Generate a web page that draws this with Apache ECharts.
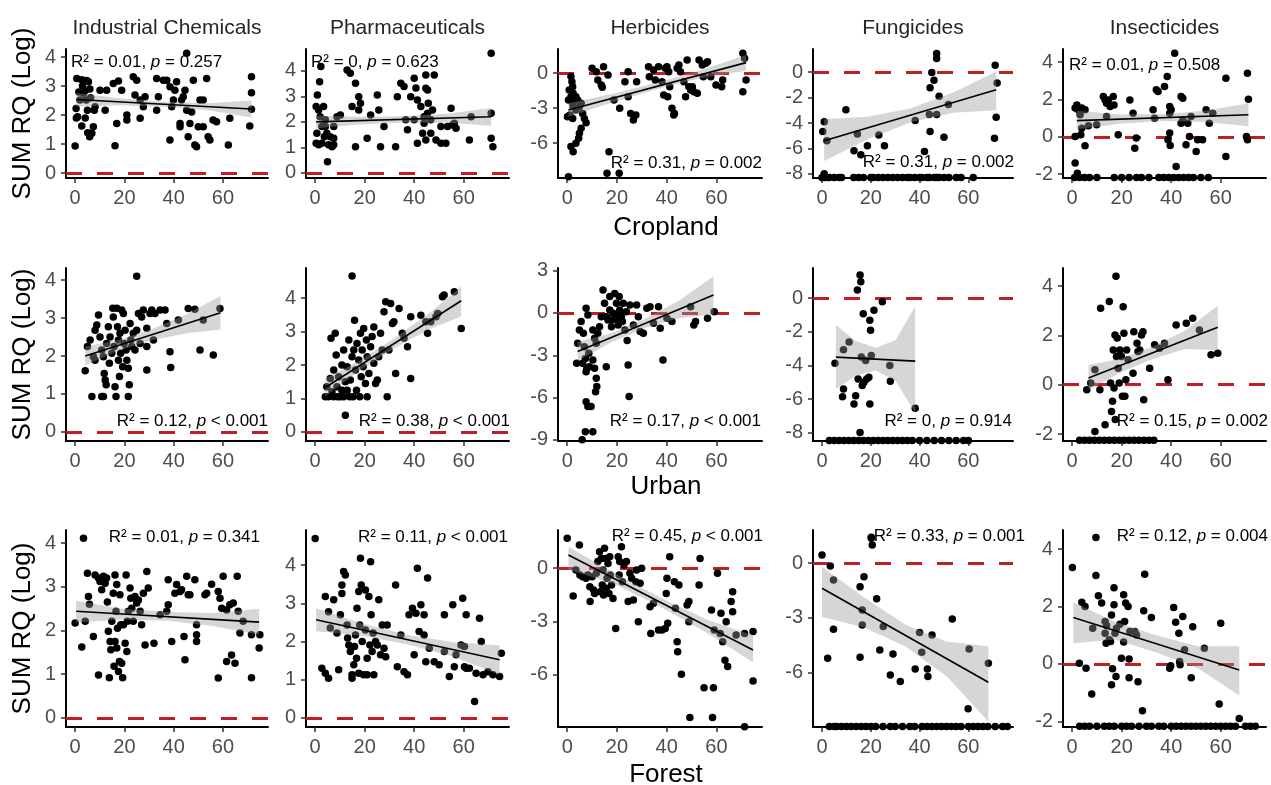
<!DOCTYPE html>
<html>
<head>
<meta charset="utf-8">
<title>SUM RQ vs land use</title>
<script src="https://cdn.jsdelivr.net/npm/echarts@6/dist/echarts.min.js"></script>
<style>
  html, body { margin: 0; padding: 0; background: #fff; }
  #chart { width: 1271px; height: 785px; }
</style>
</head>
<body>
<div id="chart"></div>
<script>
// ---- labels ----
const classNames = ['Industrial Chemicals', 'Pharmaceuticals', 'Herbicides', 'Fungicides', 'Insecticides'];
const landUses = ['Cropland', 'Urban', 'Forest'];
const xTicks = [0, 20, 40, 60];
const statR2 = [
  ['0.01', '0', '0.31', '0.31', '0.01'],
  ['0.12', '0.38', '0.17', '0', '0.15'],
  ['0.01', '0.11', '0.45', '0.33', '0.12']
];
const statP = [
  ['= 0.257', '= 0.623', '= 0.002', '= 0.002', '= 0.508'],
  ['< 0.001', '< 0.001', '< 0.001', '= 0.914', '= 0.002'],
  ['= 0.341', '< 0.001', '< 0.001', '= 0.001', '= 0.004']
];

// ---- Cropland ----
const cropIndustrial = [[0,0.93],[0.7,3.26],[2.7,3.22],[4.7,3.19],[5.4,3.15],[0.4,2.23],[1,1.94],[2,2.52],[3.4,2.75],[4.2,2.86],[4.5,2.52],[5,2.17],[2.7,1.62],[4.1,1.9],[5.1,1.39],[5.9,1.25],[6.8,1.37],[7.4,1.6],[7.8,2.17],[8.1,2.29],[1.5,2.8],[3,3.0],[0.5,1.9],[6.3,2.6],[6,2.9],[10.1,2.86],[12.8,2.86],[15.5,3.09],[17.6,3.18],[18.9,2.86],[16.9,1.71],[16.2,0.94],[21,2.0],[21,1.83],[12.2,2.17],[23.6,3.32],[25,3.2],[24.3,2.69],[26.4,2.52],[26.4,1.89],[27.7,2.29],[28.4,2.63],[33.1,3.26],[33.8,2.63],[33.1,2.17],[35.8,3.2],[37.2,3.2],[38.5,2.98],[39.2,2.29],[38.5,1.14],[40.5,2.86],[41.2,3.15],[39.9,2.52],[42.6,1.6],[42.6,1.71],[43.9,2.63],[44.6,2.86],[45.3,2.17],[43.2,2.52],[45.9,1.25],[46.6,1.71],[47.3,2.11],[48,3.2],[48.6,0.97],[49.3,0.91],[50,1.6],[50.7,2.52],[52,2.52],[53.4,3.26],[52,1.6],[54,1.25],[54.7,1.14],[56,1.83],[57.4,1.77],[62.8,1.89],[62.2,0.97],[71.6,3.32],[71.6,2.77],[71.6,2.2],[70.9,1.62],[45.3,4.13]];
const cropPharma = [[2.3,4.17],[1.8,3.58],[0.9,3.06],[0.4,2.6],[1.4,2.47],[2,2.2],[2.7,1.82],[0.7,1.56],[0.4,1.16],[1.4,1.1],[2.7,1.16],[3.7,1.42],[4.1,1.82],[4.7,1.56],[5.4,1.1],[4.1,2.08],[6.1,1.42],[7.5,1.36],[7.5,1.1],[6.8,1.03],[5,0.44],[3.4,2.6],[7.5,1.82],[8.8,2.2],[10.2,2.27],[12.9,4.04],[14.2,3.91],[16.3,3.52],[14.9,2.6],[16.3,1.03],[17.6,2.99],[18.3,2.73],[17.6,2.47],[21,1.36],[22.4,2.27],[25.1,3.06],[25.7,2.47],[26.4,1.03],[27.8,1.82],[32.5,1.03],[33.2,2.99],[34.6,3.52],[35.9,3.39],[36.6,2.08],[37.3,1.69],[38.6,2.99],[40,3.71],[40,2.08],[40.7,3.33],[41.3,2.86],[41.3,1.16],[42.7,2.6],[43.4,1.56],[44,2.2],[44.7,1.29],[45.4,3.25],[45.7,2.73],[44.7,3.84],[48.1,3.84],[44.7,3.32],[44,1.95],[46.7,1.56],[48.8,1.29],[50.8,1.16],[52.8,1.16],[46.7,2.08],[50.8,1.82],[53.5,1.82],[55.5,1.88],[54.9,2.54],[56.2,1.95],[56.9,1.75],[62.3,1.29],[63,2.2],[71.1,4.69],[71.1,2.34],[71.1,1.36],[71.8,1.03],[45.4,2.34],[47.4,2.47]];
const cropHerb = [[1.5,-0.3],[1.9,-0.74],[2.2,-1.17],[0.8,-1.46],[2.4,-1.74],[1.5,-2.03],[3.5,-2.03],[0.5,-2.31],[2.2,-2.6],[4.2,-2.31],[4.9,-2.89],[1.1,-3.6],[0.1,-3.74],[2.2,-3.89],[6.2,-3.46],[6.9,-3.89],[7.6,-4.26],[5.6,-4.74],[4.9,-5.17],[4.6,-5.6],[3.5,-6.03],[1.5,-6.31],[2.4,-6.74],[0.5,-8.89],[3.5,-3.17],[2.4,-2.89],[5.6,-2.6],[10,0.4],[11.7,0.11],[14.6,0.54],[12.3,-0.6],[13.7,-1.03],[14.1,-1.23],[16.4,-0.17],[16,-8.6],[16.8,-6.74],[20.9,-8.6],[18.8,-2.31],[21.1,-3.03],[23.2,-0.74],[24.5,0.11],[24.5,-2.03],[25.5,-3.46],[26.6,-4.03],[27.6,-3.6],[27.9,-0.74],[32.7,0.54],[33,-0.31],[34.7,0.26],[35.4,-0.6],[36.7,0.54],[38.1,-0.74],[38.8,-1.89],[39.4,0.4],[40.1,0.54],[40.4,-2.03],[40.8,0.11],[41.2,-1.17],[42.1,-3.03],[42.8,-3.6],[43.1,-3.46],[44.2,0.4],[44.9,0.69],[45.5,0.11],[46.9,-0.74],[47.6,-2.03],[48.2,1.11],[48.9,-1.17],[49.6,-1.46],[50.3,-1.17],[50.9,-1.6],[52.3,-1.74],[53,1.11],[54.3,0.69],[55.7,0.83],[56.4,0.97],[57.7,-0.31],[59.8,-1.03],[62.5,-0.6],[62.1,-1.17],[70.6,1.69],[71.3,1.26],[71.9,-0.6],[70.6,-1.6],[54.7,-0.31]];
const cropFung = [[0.9,-3.89],[0.3,-4.66],[2,-5.4],[9.8,-2.96],[14.5,-4.87],[13.1,-6.19],[15.9,-6.5],[18.6,-5.79],[23.3,-4.95],[25.6,-5.79],[38.2,-3.81],[42,-6.24],[44,-3.33],[44.3,-4.66],[44.3,-1.22],[45,-0.03],[45.9,-0.63],[47,-3.33],[48,-1.9],[47,1.08],[47,1.48],[50,-5.13],[51.8,-2.54],[71,0.56],[71.8,-0.85],[71.4,-3.54],[70.7,-5.19],[0.9,-8.0],[0.7,-8.17],
  [0,-8.3],[1,-8.3],[2,-8.3],[3,-8.3],[5,-8.3],[7,-8.3],[8,-8.3],[13,-8.3],[15,-8.3],[17,-8.3],[20,-8.3],[21,-8.3],[23,-8.3],[25,-8.3],[27,-8.3],[29,-8.3],[31,-8.3],[33,-8.3],[35,-8.3],[36,-8.3],[38,-8.3],[40,-8.3],[41,-8.3],[43,-8.3],[44,-8.3],[46,-8.3],[47,-8.3],[48,-8.3],[50,-8.3],[52,-8.3],[55,-8.3],[57,-8.3],[62,-8.3]];
const cropInsect = [[1.2,1.54],[1.9,1.71],[2.5,1.45],[3.9,1.54],[5.2,1.45],[3.2,1.18],[3.9,0.46],[3.5,0.11],[5.2,-0.48],[1.2,-1.41],[2.1,-1.95],[1.2,0.02],[6.6,0.59],[9.9,0.64],[12.6,2.16],[13.3,1.98],[13.9,1.8],[14.6,1.98],[15.3,1.63],[16.6,2.16],[16.9,1.71],[13.9,1.09],[18.6,0.11],[23.3,1.98],[24.6,1.27],[25.3,-0.61],[25.9,-0.07],[32.7,1.45],[33.3,1.0],[34,2.52],[34.7,2.43],[37.3,2.7],[38.4,3.23],[39.4,1.63],[40,1.45],[39.4,1.27],[38.7,-0.16],[39.6,-0.46],[39.4,0.2],[41.4,4.48],[42,-1.59],[44,2.16],[44.7,2.07],[44,0.73],[44.7,0.91],[46,-0.43],[46.7,0.73],[47.4,0.02],[48,1.09],[50.1,-0.79],[50.7,-0.16],[52.7,-0.16],[54.1,1.45],[55.4,0.73],[56.8,1.27],[62.1,3.14],[62.1,-1.05],[70.8,3.41],[71.2,2.02],[70.4,0.02],[70.8,-0.16],
  [1,-2.18],[3,-2.18],[5,-2.18],[7,-2.18],[10,-2.18],[17,-2.18],[20,-2.18],[23,-2.18],[26,-2.18],[28,-2.18],[31,-2.18],[35,-2.18],[37,-2.18],[39,-2.18],[41,-2.18],[43,-2.18],[45,-2.18],[47,-2.18],[49,-2.18],[52,-2.18],[55,-2.18]];

// ---- Urban ----
const urbanIndustrial = [[4.1,1.61],[5,2.25],[6.1,2.42],[6.8,0.93],[7.4,1.98],[8.1,2.68],[8.8,2.82],[9.5,3.08],[8.1,1.89],[10.1,2.5],[10.8,0.93],[11.5,0.93],[10.8,2.16],[11.5,1.98],[11.8,1.54],[12.2,1.37],[12.6,1.24],[12.8,2.33],[13.5,2.77],[13.9,1.81],[14.2,2.5],[14.9,2.07],[15.3,3.26],[15.5,3.03],[15.8,2.25],[16.2,1.19],[16.6,0.93],[16.9,3.26],[17.2,2.77],[17.6,2.42],[17.6,1.89],[18,1.46],[18.2,2.6],[18.5,2.07],[18.9,3.21],[19.3,1.72],[19.6,3.12],[19.9,2.33],[20.3,2.68],[20.7,2.16],[21,1.89],[21.6,0.93],[21.6,1.68],[22,1.24],[22.3,2.86],[22.6,2.42],[23,2.25],[23.6,2.6],[24.3,2.16],[25,4.1],[25,2.68],[25.7,3.12],[26.4,2.33],[27,3.03],[27.7,3.21],[29.1,2.25],[29.1,1.63],[29.1,2.73],[30.4,3.12],[31.1,3.21],[31.8,2.42],[32.4,3.12],[34.5,3.21],[36.5,3.21],[37.2,2.86],[38.5,2.11],[38.8,1.7],[41.9,2.95],[45.9,3.25],[48.6,3.23],[50.7,2.16],[52,2.95],[56.1,2.03],[58.8,3.25]];
const urbanPharma = [[4.1,1.05],[4.7,1.35],[5.4,1.05],[6.1,1.6],[6.4,2.8],[6.8,1.2],[7.5,1.05],[7.5,1.85],[8.1,2.95],[8.5,2.3],[8.8,1.35],[9.1,1.05],[9.5,1.65],[10.2,1.05],[10.8,1.25],[10.8,2.0],[11.5,2.45],[11.5,1.05],[12.2,1.5],[12.2,0.5],[12.9,1.95],[12.9,1.25],[13.6,2.75],[14,1.05],[14.2,1.55],[14.9,4.66],[14.9,2.25],[15.3,1.05],[15.6,2.45],[15.9,3.34],[16.3,1.85],[16.7,1.25],[16.9,2.64],[17.6,2.15],[18,1.05],[18.3,2.95],[18.6,1.65],[19,2.45],[19.4,1.95],[19.6,3.09],[20.3,1.45],[20.7,2.75],[21,2.25],[21,1.05],[21.7,1.75],[22.4,2.55],[23,2.85],[23.7,3.14],[23.7,2.05],[24.4,1.45],[25.1,1.55],[25.7,2.25],[26.4,2.95],[27.1,2.45],[27.8,3.59],[28.5,3.89],[29.1,1.05],[29.8,2.45],[30.5,3.84],[31.2,3.24],[31.8,3.29],[32.5,1.75],[33.9,3.69],[35.2,2.95],[35.9,2.8],[37.3,2.55],[38.6,1.6],[38.6,3.44],[42.7,3.49],[44.7,3.29],[45.4,2.95],[48.8,3.44],[51.4,4.04],[52.1,4.09],[56.2,4.19],[59,3.09],[49.5,3.54],[46.7,3.29]];
const urbanHerb = [[4.2,-2.15],[3.8,-3.57],[6.2,-3.57],[5.6,-0.61],[4.9,-1.21],[6.5,-1.44],[7.6,0.33],[8.3,-0.14],[6.9,-2.39],[7.3,-3.22],[7.9,-3.92],[7.6,-4.16],[8.7,-2.86],[8.9,-3.81],[10.3,-3.33],[11,-3.92],[11.7,-4.63],[11.9,-5.22],[11.4,-5.58],[7.6,-6.29],[8.3,-6.64],[9.6,-6.64],[7.3,-8.42],[10.3,-8.42],[6,-9.0],[10.3,-1.21],[11,-1.8],[11.7,-2.15],[12.3,-1.44],[13,-0.97],[13.7,-0.26],[14.4,1.63],[15,0.69],[15.7,-3.81],[16.4,-0.5],[17.1,0.21],[17.1,1.16],[17.8,-0.97],[18.4,-0.02],[19.1,1.39],[19.8,0.69],[20.1,-0.5],[20.5,-0.85],[20.9,1.16],[21.1,0.21],[21.8,-0.26],[22.2,-0.61],[22.5,0.69],[23.2,-1.21],[23.8,0.09],[24.1,-1.95],[24.5,-3.69],[24.9,-5.93],[25.2,0.57],[26.6,-0.85],[27.9,0.57],[28.6,-0.26],[29.3,-1.32],[30.6,-1.44],[32,0.33],[33.3,0.45],[34.7,-0.73],[36.7,0.45],[37.4,-1.09],[38.5,-3.33],[40.1,-0.38],[42.1,-0.61],[49.6,0.45],[50.9,-0.85],[51.6,-0.61],[56.4,-0.38],[59.1,0.09],[15.7,-0.26],[17.8,-0.5],[19.8,-0.14]];
const urbanFung = [[5.3,-3.86],[8.8,-3.06],[11.1,-2.61],[8.8,-5.39],[8.4,-5.85],[13.8,-5.79],[13.1,-6.29],[14.8,-4.8],[15.6,1.37],[15.9,0.98],[14.5,0.48],[16.1,-3.5],[16.5,-5.19],[16.9,-0.92],[17.2,-4.99],[17.9,-3.7],[18.3,-4.8],[19.2,-4.7],[19.6,-1.31],[19.9,-1.91],[19.6,-6.29],[20.2,-3.41],[21.3,-0.72],[24.7,-0.22],[27.8,-4.0],[28,-4.94],[38.2,-6.53],[15.6,-7.98],
  [3,-8.45],[5,-8.45],[7,-8.45],[9,-8.45],[11,-8.45],[13,-8.45],[15,-8.45],[17,-8.45],[19,-8.45],[21,-8.45],[23,-8.45],[25,-8.45],[27,-8.45],[29,-8.45],[31,-8.45],[33,-8.45],[35,-8.45],[37,-8.45],[40,-8.45],[43,-8.45],[46,-8.45],[49,-8.45],[52,-8.45],[55,-8.45],[58,-8.45],[60,-8.45]];
const urbanInsect = [[5.9,-0.2],[9.2,0.61],[7.5,0.07],[11.2,-0.2],[11.5,3.1],[13.3,-1.62],[9.2,-1.89],[15,3.37],[15.5,0.07],[15.9,-1.08],[16.3,-0.67],[16.6,1.41],[16.9,-0.13],[17.3,2.02],[17.4,-1.41],[17.7,4.4],[17.9,1.14],[18.2,1.89],[18.6,0.67],[19,0.07],[19.3,1.41],[19.9,1.14],[20.3,-0.47],[20.6,3.16],[20.9,2.09],[21.3,-0.47],[21.7,0.2],[22,1.41],[22.6,1.01],[24.6,0.47],[24.9,2.15],[26.2,1.68],[26.6,1.35],[27.3,1.41],[28,2.02],[28.6,2.15],[28.9,-0.61],[31.3,0.67],[33.3,1.62],[35.3,1.48],[37.3,1.68],[38.7,0.2],[42,2.42],[46.1,2.49],[48.7,2.69],[51.4,2.22],[56.1,1.21],[58.8,1.28],
  [3,-2.25],[5,-2.25],[7,-2.25],[9,-2.25],[11,-2.25],[13,-2.25],[15,-2.25],[17,-2.25],[19,-2.25],[21,-2.25],[23,-2.25],[25,-2.25],[27,-2.25],[29,-2.25],[31,-2.25],[33,-2.25]];

// ---- Forest ----
const forestIndustrial = [[0,2.17],[2.7,1.62],[3.4,4.11],[4.1,2.21],[5,3.31],[5.4,2.78],[5.8,2.6],[7.4,1.86],[8.1,3.27],[9.5,0.98],[9.5,3.2],[10.1,3.12],[10.8,2.93],[11.5,3.24],[12.2,3.08],[12.8,3.2],[13.1,2.65],[13.5,1.98],[13.9,0.92],[14.2,1.75],[14.5,1.56],[14.9,2.21],[15.5,2.85],[15.8,1.18],[16.2,3.27],[16.2,1.75],[16.6,2.44],[16.9,1.6],[16.9,3.05],[17.2,2.05],[17.6,1.06],[18,1.29],[18.2,2.82],[18.5,2.13],[18.9,1.25],[19.3,0.92],[19.6,2.13],[20.3,1.71],[20.7,3.27],[21,1.52],[21.2,2.21],[21.6,2.44],[22.3,2.97],[22.6,2.74],[23,2.51],[23.6,2.21],[24.3,2.78],[25,2.63],[25.7,2.7],[26.4,2.44],[27,2.13],[27.7,2.85],[28.4,1.67],[29.1,3.35],[29.7,2.97],[32,1.71],[34.5,2.36],[37.2,2.44],[37.8,2.59],[37.8,3.16],[39.2,1.75],[40.5,2.85],[41.2,3.05],[42.6,2.89],[43.2,2.93],[44.2,1.86],[44.6,1.33],[45.3,3.24],[45.9,2.82],[46.6,2.82],[48.6,3.16],[49.3,1.9],[49.3,1.75],[49.3,2.13],[52.7,2.82],[53.4,2.85],[55.4,3.06],[58.1,2.89],[58.8,2.74],[58.1,0.91],[59.5,2.51],[60.1,3.24],[61.5,2.47],[61.5,1.29],[62.8,2.59],[63.5,1.44],[64.2,2.63],[64.9,1.25],[65.8,3.24],[66.2,2.44],[66.9,1.94],[68.2,2.21],[71.6,1.9],[71.6,0.92],[74.7,1.6],[75,1.9]];
const forestPharma = [[0,4.7],[2.7,1.3],[4.1,1.17],[5.4,1.04],[4.1,3.18],[5.4,2.78],[6.1,2.35],[7.5,3.09],[8.8,2.22],[9.5,1.26],[10.2,2.7],[10.8,3.48],[11.5,3.83],[12.2,3.74],[10.8,3.26],[12.9,2.43],[13.1,2.09],[13.6,1.91],[14.2,1.74],[14.9,1.13],[14.9,1.04],[15.6,1.39],[15.9,1.87],[16.3,2.17],[16.7,1.56],[16.9,2.87],[17.6,3.31],[17.6,1.17],[18,2.43],[18.3,4.18],[18.6,3.48],[19,2.0],[19.6,1.13],[20.3,2.3],[20.3,3.35],[21,1.56],[21,1.13],[21.7,3.18],[22.1,1.91],[22.4,4.09],[22.6,2.7],[23,1.74],[23.4,2.22],[23.7,1.13],[24.4,2.0],[25.1,1.91],[25.7,3.09],[26.4,1.65],[27.1,2.43],[27.8,1.82],[28.5,1.6],[29.1,2.43],[32.5,3.48],[33.2,1.34],[34.6,2.17],[35.9,1.21],[37.3,1.13],[37.9,2.7],[39.3,2.87],[40,1.65],[40.7,2.74],[41.3,3.92],[42,2.26],[44,2.7],[44.7,1.47],[45.4,3.66],[42.7,2.96],[44,2.17],[46.1,1.82],[48.1,1.47],[50.1,1.39],[52.2,1.74],[52.2,2.7],[54.2,1.08],[55.6,2.96],[56.2,1.34],[56.9,1.65],[59.6,3.13],[60.3,1.34],[61,1.3],[61,2.7],[62.3,1.3],[64.4,0.43],[66.4,2.61],[67.1,2.0],[67.8,1.13],[69.8,1.21],[71.8,1.13],[74.5,1.08],[75.2,1.69],[65,1.17],[58.9,1.91],[60.3,1.87]];
const forestHerb = [[0,1.67],[2.4,-1.58],[3.5,-0.11],[4.9,1.29],[5.1,-0.39],[6.2,-0.49],[7.6,-0.58],[8.3,-0.39],[9.1,-1.05],[9.2,-1.89],[10,-0.49],[10.6,-1.24],[11,-1.43],[11.7,-0.3],[12.3,0.36],[13,0.92],[13.3,-1.33],[13.7,0.54],[14.1,-0.96],[14.4,-0.11],[14.6,-1.52],[15,1.11],[15.4,0.54],[15.7,-1.14],[16,-0.58],[16.4,0.26],[16.8,-1.43],[17.1,0.64],[17.3,-0.39],[17.8,-0.96],[18.4,-1.71],[19.5,-3.4],[20.5,0.64],[20.9,-0.39],[21.1,0.36],[21.8,1.2],[22.2,-0.77],[22.8,0.17],[23.8,0.36],[24.5,-1.89],[25.2,-0.3],[25.9,-0.58],[26.6,-1.8],[27.6,-0.77],[27.9,-0.11],[28.6,-3.02],[29.3,-0.86],[29.9,-0.02],[33.3,-2.18],[33.6,-3.68],[34.7,-1.99],[36.7,-3.49],[38.1,-3.49],[39.4,-3.4],[39.8,-1.43],[40.1,-0.58],[40.4,-3.11],[41.2,0.64],[43.1,-0.77],[43.5,-2.27],[44.2,-4.15],[44.4,-4.71],[44.9,-0.96],[45.9,-5.98],[48.2,-2.08],[48.9,-1.89],[48.9,-3.02],[49.3,-8.42],[53.4,0.54],[53,-0.96],[55,-6.74],[58.8,-6.74],[58,-2.36],[58.4,-8.42],[59.1,-3.49],[60.4,-0.3],[61.5,-3.68],[61.8,-2.55],[62.5,-4.15],[63.9,-3.02],[63.4,-5.19],[64.5,-5.55],[65.9,-1.89],[66.5,-1.33],[66.5,-2.46],[67.9,-3.77],[71.3,-3.68],[74.7,-3.58],[71.3,-8.93],[74.7,-6.36]];
const forestFung = [[0,0.44],[3.4,-0.16],[4.7,-0.93],[2.3,-5.2],[4.7,-3.62],[15.6,-1.29],[15.6,-5.15],[16.5,-2.56],[16.5,-3.38],[17.2,-0.75],[20.2,1.35],[20.6,0.98],[20.2,1.4],[22.4,-1.95],[23.7,-4.75],[25.1,-3.47],[28,-6.11],[29.1,-4.96],[32.1,-6.47],[38.2,-5.78],[40,-3.8],[40.9,-4.87],[43.2,-5.78],[43.4,-6.2],[45.1,-3.93],[53.4,-3.05],[59.9,-7.96],[60.3,-4.69],[68.2,-5.47],
  [3,-8.92],[5,-8.92],[6,-8.92],[8,-8.92],[10,-8.92],[12,-8.92],[14,-8.92],[16,-8.92],[18,-8.92],[20,-8.92],[22,-8.92],[25,-8.92],[28,-8.92],[30,-8.92],[33,-8.92],[36,-8.92],[38,-8.92],[41,-8.92],[43,-8.92],[45,-8.92],[47,-8.92],[49,-8.92],[51,-8.92],[53,-8.92],[55,-8.92],[57,-8.92],[60,-8.92],[62,-8.92],[64,-8.92],[66,-8.92],[68,-8.92],[71,-8.92],[74,-8.92],[76,-8.92]];
const forestInsect = [[0.1,3.36],[2.9,0.02],[3.9,2.15],[5.2,2.0],[5.6,-0.15],[7.9,-1.05],[8.3,1.24],[9.6,4.41],[9.6,3.08],[10.6,2.38],[11.9,2.12],[13.3,1.48],[13.3,1.07],[13.7,0.72],[13.9,1.34],[15,0.84],[15.5,0.78],[15.9,1.71],[16.3,-0.17],[15.9,-0.73],[16.9,2.66],[16.9,2.06],[17.3,1.07],[17.7,-0.44],[17.9,1.24],[19.3,1.38],[19.9,0.2],[20.8,2.41],[20.8,0.76],[21.2,1.48],[21.6,2.12],[22.6,2.0],[23,0.17],[23,-0.48],[23.3,1.13],[25.3,1.13],[26,1.01],[26.6,-0.62],[28.4,-1.63],[29.3,3.13],[28.9,1.85],[32,1.62],[39.4,-0.15],[41,1.97],[41.8,1.45],[43.1,1.07],[43.4,0.08],[44.7,1.65],[45.4,0.49],[48.1,-0.48],[48.7,1.3],[53.4,0.55],[60,1.42],[59.4,-1.4],[67.5,-1.9],[43.6,-0.03],[39.8,-0.06],
  [3,-2.17],[5,-2.17],[7,-2.17],[10,-2.17],[13,-2.17],[15,-2.17],[17,-2.17],[20,-2.17],[22,-2.17],[24,-2.17],[27,-2.17],[30,-2.17],[32,-2.17],[35,-2.17],[37,-2.17],[40,-2.17],[42,-2.17],[44,-2.17],[46,-2.17],[48,-2.17],[50,-2.17],[52,-2.17],[54,-2.17],[56,-2.17],[58,-2.17],[60,-2.17],[62,-2.17],[64,-2.17],[66,-2.17],[70,-2.17],[72,-2.17],[74,-2.17]];

// ---- fitted lines: [x, y] at both ends ----
const cropIndustrialFit = [[0.4, 2.54], [71.6, 2.21]];
const cropPharmaFit = [[0.4, 2.0], [71.1, 2.2]];
const cropHerbFit = [[0.5, -3.17], [71.9, 0.89]];
const cropFungFit = [[0.9, -5.4], [71.4, -1.38]];
const cropInsectFit = [[1.9, 0.87], [71.2, 1.18]];
const urbanIndustrialFit = [[4.1, 2.0], [59, 3.14]];
const urbanPharmaFit = [[4.1, 1.33], [59, 3.92]];
const urbanHerbFit = [[4.2, -2.74], [58.8, 1.28]];
const urbanFungFit = [[5.7, -3.5], [38.2, -3.74]];
const urbanInsectFit = [[6.6, 0.27], [58.8, 2.33]];
const forestIndustrialFit = [[0.4, 2.44], [74.7, 2.19]];
const forestPharmaFit = [[0.4, 2.57], [74.5, 1.52]];
const forestHerbFit = [[0.5, 0.73], [74.7, -4.62]];
const forestFungFit = [[0, -1.38], [68.2, -6.51]];
const forestInsectFit = [[0.5, 1.62], [67.5, -0.21]];

// ---- confidence bands: [x, lower, upper] ----
const cropIndustrialBand = [[0.4,2.3,2.76],[18,2.34,2.58],[36,2.29,2.46],[54,2.17,2.41],[71.6,1.92,2.5]];
const cropPharmaBand = [[0.4,1.75,2.25],[18,1.9,2.2],[36,1.98,2.22],[54,1.97,2.33],[71.1,1.85,2.55]];
const cropHerbBand = [[0.5,-3.75,-2.6],[18.4,-2.5,-1.78],[36.2,-1.38,-0.82],[54,-0.42,0.26],[71.9,0.2,1.55]];
const cropFungBand = [[0.9,-7.0,-3.7],[18.5,-5.3,-3.5],[36.1,-3.95,-2.85],[53.8,-3.2,-1.6],[71.4,-3.0,0.05]];
const cropInsectBand = [[1.9,0.4,1.4],[19.2,0.7,1.2],[36.6,0.85,1.22],[53.9,0.8,1.4],[71.2,0.57,1.8]];
const urbanIndustrialBand = [[4.1,1.75,2.25],[17.8,2.15,2.42],[31.5,2.42,2.72],[45.3,2.6,3.1],[59,2.7,3.58]];
const urbanPharmaBand = [[4.1,1.07,1.6],[17.8,1.83,2.12],[31.5,2.48,2.78],[45.3,3.05,3.5],[59,3.45,4.35]];
const urbanHerbBand = [[4.2,-3.4,-2.05],[17.9,-2.05,-1.42],[31.5,-1.05,-0.4],[45.2,-0.35,0.9],[58.8,-0.1,2.6]];
const urbanFungBand = [[5.7,-5.4,-1.6],[13.8,-4.6,-2.55],[22,-4.3,-2.95],[30.1,-4.9,-2.5],[38.2,-6.8,-0.5]];
const urbanInsectBand = [[6.6,-0.2,0.8],[19.6,0.5,1.05],[32.7,1.05,1.55],[45.7,1.45,2.2],[58.8,1.4,3.2]];
const forestIndustrialBand = [[0.4,2.18,2.68],[19,2.25,2.5],[37.5,2.22,2.42],[56,2.1,2.4],[74.7,1.9,2.5]];
const forestPharmaBand = [[0.4,2.27,2.87],[18.9,2.15,2.47],[37.5,1.92,2.17],[56,1.6,1.98],[74.5,1.13,1.9]];
const forestHerbBand = [[0.5,-0.1,1.2],[19,-0.9,-0.3],[37.6,-2.2,-1.68],[56.1,-3.65,-2.9],[74.7,-5.3,-3.8]];
const forestFungBand = [[0,-2.95,-0.2],[17,-3.5,-1.85],[34.1,-4.55,-3.35],[51.2,-6.2,-4.3],[68.2,-8.65,-4.55]];
const forestInsectBand = [[0.5,0.72,2.15],[17.3,0.85,1.47],[34,0.4,1.0],[50.8,-0.15,0.62],[67.5,-1.1,0.62]];

// ---- y scale per panel ----
const yRanges = [
  [[-0.17,4.28],[-0.2,4.86],[-9.0,2.06],[-8.33,1.83],[-2.21,4.71]],
  [[-0.24,4.32],[-0.27,4.9],[-9.08,3.19],[-8.48,1.79],[-2.28,4.73]],
  [[-0.21,4.3],[-0.24,4.92],[-8.95,2.14],[-8.95,1.8],[-2.2,4.67]]
];
const yTicks = [
  [[0,1,2,3,4],[0,1,2,3,4],[-6,-3,0],[-8,-6,-4,-2,0],[-2,0,2,4]],
  [[0,1,2,3,4],[0,1,2,3,4],[-9,-6,-3,0,3],[-8,-6,-4,-2,0],[-2,0,2,4]],
  [[0,1,2,3,4],[0,1,2,3,4],[-6,-3,0],[-6,-3,0],[-2,0,2,4]]
];
const X_MIN = -3.7, X_MAX = 78.3;

const pointSets = [cropIndustrial, cropPharma, cropHerb, cropFung, cropInsect,
  urbanIndustrial, urbanPharma, urbanHerb, urbanFung, urbanInsect,
  forestIndustrial, forestPharma, forestHerb, forestFung, forestInsect];
const fitSets = [cropIndustrialFit, cropPharmaFit, cropHerbFit, cropFungFit, cropInsectFit,
  urbanIndustrialFit, urbanPharmaFit, urbanHerbFit, urbanFungFit, urbanInsectFit,
  forestIndustrialFit, forestPharmaFit, forestHerbFit, forestFungFit, forestInsectFit];
const bandSets = [cropIndustrialBand, cropPharmaBand, cropHerbBand, cropFungBand, cropInsectBand,
  urbanIndustrialBand, urbanPharmaBand, urbanHerbBand, urbanFungBand, urbanInsectBand,
  forestIndustrialBand, forestPharmaBand, forestHerbBand, forestFungBand, forestInsectBand];

// ---- layout ----
const FONT = '"Liberation Sans", Arial, sans-serif';
const cols = [{ left: 66, width: 202 }, { left: 306, width: 203 }, { left: 558, width: 204 }, { left: 813, width: 200 }, { left: 1063, width: 203 }];
const rows = [{ top: 49, height: 129 }, { top: 268, height: 173 }, { top: 530, height: 197 }];
// where the R² / p text sits: [align, dx from grid edge, y]
const statPos = [
  [['left', 5, 62], ['left', 5, 62], ['right', 0, 163], ['right', 1, 162], ['left', 6, 65]],
  [['right', 0, 421], ['right', 1, 421], ['right', -1, 421], ['right', -1, 421], ['right', 2, 421]],
  [['right', -8, 537], ['right', -1, 537], ['right', 1, 536], ['right', 12, 536], ['right', 2, 536]]
];
const landLabelY = [228, 487, 775];

const grids = [], xAxes = [], yAxes = [], series = [], graphics = [];

pointSets.forEach((pts, k) => {
  const r = Math.floor(k / 5), c = k % 5;
  const g = { left: cols[c].left, width: cols[c].width, top: rows[r].top, height: rows[r].height };
  grids.push(g);
  xAxes.push({
    gridIndex: k, type: 'value', min: X_MIN, max: X_MAX,
    axisLine: { onZero: false, lineStyle: { color: '#000', width: 2 } },
    axisTick: { length: 5, lineStyle: { color: '#333', width: 1.5 }, customValues: xTicks },
    axisLabel: { customValues: xTicks, color: '#4D4D4D', fontSize: 20, fontFamily: FONT, margin: 10 },
    splitLine: { show: false }
  });
  yAxes.push({
    gridIndex: k, type: 'value', min: yRanges[r][c][0], max: yRanges[r][c][1],
    axisLine: { onZero: false, lineStyle: { color: '#000', width: 2 } },
    axisTick: { length: 5, lineStyle: { color: '#333', width: 1.5 }, customValues: yTicks[r][c] },
    axisLabel: { customValues: yTicks[r][c], color: '#4D4D4D', fontSize: 20, fontFamily: FONT, margin: 10 },
    splitLine: { show: false }
  });

  // points + dashed zero line
  series.push({
    type: 'scatter', xAxisIndex: k, yAxisIndex: k, data: pts,
    symbolSize: 7.5, itemStyle: { color: '#000', opacity: 1 }, clip: false, silent: true, z: 2,
    markLine: {
      silent: true, symbol: 'none', z: 1, animation: false,
      label: { show: false },
      lineStyle: { color: '#BE1E24', width: 3, type: [16, 15] },
      data: [{ yAxis: 0 }]
    }
  });

  // confidence band
  const band = bandSets[k];
  series.push({
    type: 'custom', xAxisIndex: k, yAxisIndex: k, data: band, silent: true, z: 3,
    renderItem: (params, api) => {
      if (params.dataIndex !== 0) return;
      const up = band.map(b => api.coord([b[0], b[2]]));
      const lo = band.slice().reverse().map(b => api.coord([b[0], b[1]]));
      return { type: 'polygon', shape: { points: up.concat(lo) }, style: { fill: 'rgba(153,153,153,0.4)' } };
    }
  });

  // fitted line
  series.push({
    type: 'line', xAxisIndex: k, yAxisIndex: k, data: fitSets[k],
    symbol: 'none', silent: true, z: 4,
    lineStyle: { color: '#000', width: 1.6 }
  });

  // stats text
  const sp = statPos[r][c];
  const xText = sp[0] === 'left' ? g.left + sp[1] : g.left + g.width + sp[1];
  graphics.push({
    type: 'text', x: xText, y: sp[2], z: 10,
    style: {
      text: '{n|R² = ' + statR2[r][c] + ', }{i|p}{n| ' + statP[r][c] + '}',
      align: sp[0], verticalAlign: 'middle',
      rich: {
        n: { fontSize: 17, fontFamily: FONT, fill: '#000' },
        i: { fontSize: 17, fontFamily: FONT, fontStyle: 'italic', fill: '#000' }
      }
    }
  });
});

// panel titles
classNames.forEach((name, c) => {
  graphics.push({
    type: 'text', x: cols[c].left + cols[c].width / 2, y: 28,
    style: { text: name, fontSize: 21, fontFamily: FONT, fill: '#262626', align: 'center', verticalAlign: 'middle' }
  });
});

// row labels
landUses.forEach((name, r) => {
  graphics.push({
    type: 'text', x: 23, y: rows[r].top + rows[r].height / 2, rotation: Math.PI / 2,
    style: { text: 'SUM RQ (Log)', fontSize: 26, fontFamily: FONT, fill: '#000', align: 'center', verticalAlign: 'middle' }
  });
  graphics.push({
    type: 'text', x: 666, y: landLabelY[r],
    style: { text: name, fontSize: 26, fontFamily: FONT, fill: '#000', align: 'center', verticalAlign: 'middle' }
  });
});

const chart = echarts.init(document.getElementById('chart'));
chart.setOption({
  animation: false,
  backgroundColor: '#fff',
  grid: grids,
  xAxis: xAxes,
  yAxis: yAxes,
  series: series,
  graphic: graphics
});
</script>
</body>
</html>
